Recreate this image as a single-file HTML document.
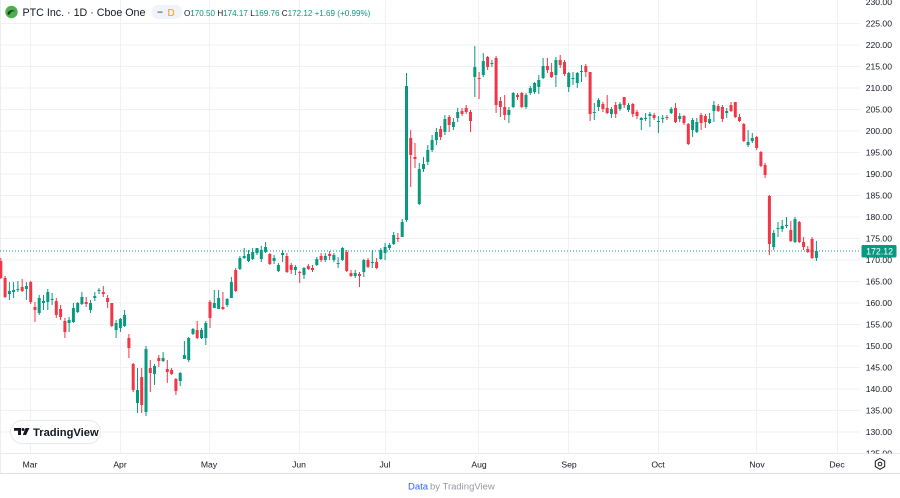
<!DOCTYPE html>
<html><head><meta charset="utf-8"><style>
html,body{margin:0;padding:0;background:#fff;}
body{width:900px;height:498px;overflow:hidden;position:relative;font-family:"Liberation Sans",sans-serif;}
svg{position:absolute;left:0;top:0;}
</style></head><body>
<svg width="900" height="498" viewBox="0 0 900 498" xmlns="http://www.w3.org/2000/svg" font-family="Liberation Sans, sans-serif">
<defs><clipPath id="pa"><rect x="0" y="0" width="900" height="453.5"/></clipPath><clipPath id="pl"><rect x="0" y="0" width="860" height="453.5"/></clipPath></defs>
<g stroke="#eff1f5" stroke-width="1">
<path d="M0 23.5H860M0 45H860M0 66.5H860M0 88H860M0 109.5H860M0 131H860M0 152.5H860M0 174H860M0 195.5H860M0 217H860M0 238.5H860M0 260H860M0 281.5H860M0 303H860M0 324.5H860M0 346H860M0 367.5H860M0 389H860M0 410.5H860M0 432H860"/>
<path d="M30.5 0V453M120.5 0V453M209.5 0V453M299.5 0V453M385.5 0V453M478.5 0V453M568.5 0V453M658.5 0V453M756.5 0V453M837.5 0V453"/>
</g>
<line x1="0" y1="453.5" x2="900" y2="453.5" stroke="#e8eaef" stroke-width="1"/>
<line x1="0.5" y1="0" x2="0.5" y2="474" stroke="#eceef2" stroke-width="1"/>
<line x1="0" y1="473.5" x2="900" y2="473.5" stroke="#dfe2e8" stroke-width="1"/>
<line x1="0" y1="251" x2="860" y2="251" stroke="#089981" stroke-width="1" stroke-dasharray="1 2"/>
<g clip-path="url(#pl)" fill="none">
<path stroke="#089981" stroke-width="1" d="M9.4 282V300M13.6 282V298M17.9 281V292M26.4 282V300M39.2 295V315M43.5 295V310M47.8 289V310M52.1 293V305M69.1 317V332M73.4 303V323M77.7 302V313M81.9 292V305M90.5 300V313M94.8 292V301M99 288V294M116.1 320V338M120.4 318V332M124.6 310V327M137.5 368V413M146 346V416M154.5 364V385M163.1 352V362M180.2 372V386M184.4 341V359M188.7 337V362M193 328V335M201.5 328V339M205.8 321V345M214.3 290V308M218.6 290V309M227.1 298V307M231.4 277V298M239.9 256V270M244.2 248V259M248.5 250V262M252.7 248V260M257 248V255M261.3 246V262M265.6 242V253M274.1 255V264M278.4 263V272M282.6 250V262M295.4 265V275M304 267V279M316.8 257V266M325.3 253V262M333.9 253V262M338.1 257V268M342.4 247V261M355.2 270V278M363.8 259V277M372.3 250V268M380.8 248V260M385.1 243V260M389.4 243V250M393.7 232V245M402.2 219V237M406.5 73V222M419.3 163V205M423.5 157V172M427.8 145V165M432.1 135V152M436.4 128V145M444.9 115V135M453.4 118V130M457.7 108V122M474.8 46V97M483.3 53V77M491.9 60V67M508.9 107V123M513.2 92V108M526 93V109M530.3 86V95M534.6 82V94M538.8 75V94M543.1 58V79M555.9 57V87M568.7 72V92M573 72V85M577.3 72V88M581.5 65V82M594.3 103V120M598.6 98V111M611.4 107V118M620 102V111M628.5 103V112M641.3 117V130M645.6 113V121M649.9 112V127M658.4 116V133M662.7 115V123M671.2 107V114M679.7 113V122M692.6 118V137M696.8 118V133M709.6 113V124M713.9 101V122M726.7 108V118M748.1 130V147M752.3 133V143M773.7 230V250M778 222V237M782.2 220V232M786.5 217V228M795 217V243M816.4 241V261"/>
<path stroke="#089981" stroke-width="3" d="M9.4 291V294M13.6 290V292M17.9 289V290M26.4 286V289M39.2 298V313M43.5 301V303M47.8 292V302M52.1 299V300M69.1 320V323M73.4 308V322M77.7 303V312M81.9 297V304M90.5 303V310M94.8 296V298M99 290V291M116.1 323V330M120.4 319V328M124.6 315V326M137.5 390V403M146 349V412M154.5 366V374M163.1 358V361M180.2 373V381M184.4 355V359M188.7 338V360M193 329V334M201.5 330V338M205.8 323V338M214.3 303V308M218.6 298V309M227.1 299V305M231.4 282V298M239.9 258V269M244.2 256V258M248.5 254V261M252.7 252V259M257 248V253M261.3 250V259M265.6 247V252M274.1 258V261M278.4 265V271M282.6 253V255M295.4 267V270M304 268V275M316.8 259V265M325.3 256V260M333.9 255V260M338.1 263V264M342.4 248V260M355.2 273V276M363.8 260V272M372.3 262V263M380.8 250V259M385.1 247V253M389.4 245V248M393.7 235V244M402.2 222V237M406.5 86V220M419.3 169V204M423.5 164V169M427.8 150V162M432.1 140V150M436.4 132V140M444.9 119V132M453.4 122V127M457.7 112V118M474.8 67V77M483.3 61V75M491.9 63V64M508.9 110V115M513.2 93V107M526 95V107M530.3 88V93M534.6 83V92M538.8 80V87M543.1 66V78M555.9 60V75M568.7 73V87M573 78V79M577.3 73V83M581.5 71V72M594.3 112V113M598.6 100V107M611.4 109V114M620 104V109M628.5 105V110M641.3 118V120M645.6 118V119M649.9 114V116M658.4 121V122M662.7 118V119M671.2 109V113M679.7 116V119M692.6 120V130M696.8 122V132M709.6 119V123M713.9 105V111M726.7 111V113M748.1 142V145M752.3 138V141M773.7 233V247M778 228V229M782.2 226V229M786.5 225V226M795 219V242M816.4 251V258"/>
<path stroke="#f23645" stroke-width="1" d="M0.8 258V279M5.1 276V298M22.2 279V292M30.7 281V304M35 302V322M56.3 298V318M60.6 305V320M64.9 318V338M86.2 297V307M103.3 286V297M107.6 295V308M111.8 303V327M128.9 334V358M133.2 363V392M141.7 368V413M150.3 360V392M158.8 355V367M167.3 360V383M171.6 368V375M175.9 378V395M197.2 321V339M210 300V328M222.9 292V310M235.7 268V292M269.8 253V265M286.9 253V273M291.2 263V274M299.7 271V283M308.3 264V270M312.5 265V272M321.1 253V262M329.6 251V260M346.7 250V272M351 270V277M359.5 272V287M368 258V268M376.6 258V269M397.9 233V242M410.7 130V187M415 143V168M440.6 126V140M449.2 115V132M462 108V116M466.2 105V114M470.5 110V132M479.1 72V99M487.6 56V70M496.1 56V113M500.4 97V117M504.7 95V120M517.5 93V100M521.8 92V108M547.4 58V73M551.6 63V78M560.2 55V68M564.5 60V76M585.8 64V77M590.1 72V121M602.9 102V112M607.2 95V114M615.7 102V118M624.2 97V108M632.8 103V117M637 110V119M654.1 113V120M666.9 115V120M675.5 103V123M684 115V125M688.3 123V145M701.1 113V130M705.4 114V128M718.2 104V112M722.4 105V122M731 102V112M735.3 102V118M739.5 114V122M743.8 123V142M756.6 136V150M760.9 151V167M765.1 163V178M769.4 195V255M790.8 221V242M799.3 221V243M803.6 237V250M807.8 246V253M812.1 237V259"/>
<path stroke="#f23645" stroke-width="3" d="M0.8 261V278M5.1 278V297M22.2 287V291M30.7 282V302M35 307V310M56.3 301V315M60.6 309V317M64.9 321V332M86.2 302V304M103.3 292V294M107.6 298V302M111.8 303V326M128.9 338V348M133.2 364V390M141.7 377V405M150.3 368V373M158.8 358V361M167.3 369V372M171.6 370V374M175.9 379V391M197.2 330V338M210 302V318M222.9 307V309M235.7 270V291M269.8 254V264M286.9 256V272M291.2 265V270M299.7 272V273M308.3 266V269M312.5 268V270M321.1 256V260M329.6 254V256M346.7 252V271M351 273V276M359.5 274V276M368 260V267M376.6 262V268M397.9 238V239M410.7 138V155M415 157V159M440.6 129V137M449.2 117V125M462 111V114M466.2 108V112M470.5 112V121M479.1 78V79M487.6 57V67M496.1 58V105M500.4 101V107M504.7 107V115M517.5 95V97M521.8 93V107M547.4 66V70M551.6 72V77M560.2 60V65M564.5 62V74M585.8 66V72M590.1 72V114M602.9 104V109M607.2 108V113M615.7 105V114M624.2 97V105M632.8 104V114M637 112V116M654.1 115V118M666.9 117V118M675.5 108V122M684 116V123M688.3 124V144M701.1 115V123M705.4 116V122M718.2 106V111M722.4 107V119M731 105V111M735.3 102V117M739.5 117V121M743.8 124V141M756.6 137V148M760.9 152V166M765.1 165V175M769.4 196V244M790.8 230V241M799.3 222V242M803.6 242V247M807.8 249V252M812.1 239V258"/>
</g>
<g clip-path="url(#pa)" font-size="8.6" fill="#131722" text-anchor="end">
<text x="892" y="5">230.00</text><text x="892" y="26.5">225.00</text><text x="892" y="48">220.00</text><text x="892" y="69.5">215.00</text><text x="892" y="91">210.00</text><text x="892" y="112.5">205.00</text><text x="892" y="134">200.00</text><text x="892" y="155.5">195.00</text><text x="892" y="177">190.00</text><text x="892" y="198.5">185.00</text><text x="892" y="220">180.00</text><text x="892" y="241.5">175.00</text><text x="892" y="263">170.00</text><text x="892" y="284.5">165.00</text><text x="892" y="306">160.00</text><text x="892" y="327.5">155.00</text><text x="892" y="349">150.00</text><text x="892" y="370.5">145.00</text><text x="892" y="392">140.00</text><text x="892" y="413.5">135.00</text><text x="892" y="435">130.00</text><text x="892" y="456.5">125.00</text>
</g>
<rect x="861.5" y="245" width="35" height="12.5" rx="1.5" fill="#089981"/>
<text x="893" y="254.5" font-size="8.8" fill="#ffffff" text-anchor="end">172.12</text>
<g font-size="8.6" fill="#131722" text-anchor="middle">
<text x="30" y="467.5">Mar</text><text x="120" y="467.5">Apr</text><text x="209" y="467.5">May</text><text x="299" y="467.5">Jun</text><text x="385" y="467.5">Jul</text><text x="479" y="467.5">Aug</text><text x="569" y="467.5">Sep</text><text x="658" y="467.5">Oct</text><text x="757" y="467.5">Nov</text><text x="837" y="467.5">Dec</text>
</g>
<path d="M880 458.5l4.7 2.7v5.4l-4.7 2.7l-4.7-2.7v-5.4z" fill="none" stroke="#131722" stroke-width="1"/>
<circle cx="880" cy="464" r="1.8" fill="none" stroke="#131722" stroke-width="1"/>
<rect x="10.5" y="420.5" width="90" height="23" rx="11.5" fill="#ffffff" stroke="#e6e8ed" stroke-width="1"/>
<path d="M14 428h7v7h-3v-4.2h-4z" fill="#131722"/>
<circle cx="23" cy="429.5" r="1.5" fill="#131722"/>
<path d="M25.5 428h4l-3.5 7h-3.2z" fill="#131722"/>
<text x="33" y="436" font-size="11.2" font-weight="bold" fill="#131722">TradingView</text>
<circle cx="11.5" cy="12" r="6.2" fill="#4caf50"/>
<path d="M7.5 13.5c1-3.5 5.5-4.5 8-2c-2-0.8-4.5-0.3-5.5 2.2c-0.8 1.5-2.5 1.3-2.5-0.2z" fill="#1b3a1b"/>
<text x="22.5" y="16" font-size="10.7" fill="#131722">PTC Inc. · 1D · Cboe One</text>
<rect x="151.5" y="5" width="31" height="14" rx="7" fill="#f0f3fa"/>
<rect x="157.5" y="11.5" width="5" height="1.3" fill="#787b86"/>
<text x="167.5" y="16" font-size="10" fill="#ff9800">D</text>
<text x="184" y="16" font-size="8.1" fill="#089981"><tspan fill="#131722">O</tspan>170.50 <tspan fill="#131722">H</tspan>174.17 <tspan fill="#131722">L</tspan>169.76 <tspan fill="#131722">C</tspan>172.12 +1.69 (+0.99%)</text>
<text x="408" y="489.5" font-size="9.5" fill="#2962ff">Data</text>
<text x="430" y="489.5" font-size="9.5" fill="#9598a1">by TradingView</text>
</svg>
</body></html>
